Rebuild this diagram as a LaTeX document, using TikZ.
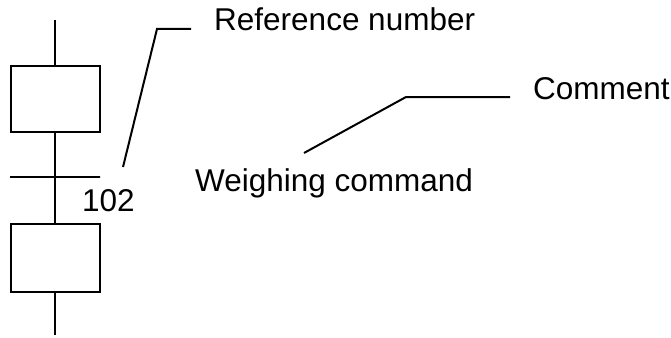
\documentclass[tikz,border=0pt]{standalone}
\usepackage{fontspec}
\setmainfont{Liberation Sans}
\usetikzlibrary{positioning}
\tikzstyle{link} = [line width=2pt,-]

\begin{document}
\begin{tikzpicture}[
    x=1pt, y=-1pt,
    every node/.style={font=\fontsize{31.5}{36}\selectfont, inner sep=0pt},
    stepbox/.style={rectangle, draw=black, line width=2pt, minimum width=89pt, minimum height=66pt},
    transbar/.style={rectangle, draw=black, line width=2pt, minimum width=90pt, minimum height=0pt},
    label/.style={anchor=base west}
]
    \useasboundingbox (0,0) rectangle (671,337);

    % Steps and transition
    \coordinate (top) at (55,20);
    \node[stepbox] (upper) at (55,99) {};
    \node[transbar] (trans) at (55,177) {};
    \node[stepbox, minimum height=68pt] (lower) at (55,258) {};
    \coordinate (bottom) at (55,335);

    % Texts
    \node[label] (num) at (82,211) {102};
    \node[label] (refnum) at (214,31) {Reference number};
    \node[label] (weigh) at (195,191) {Weighing command};
    \node[label] (comment) at (533,99) {Comment};

    % Leader points
    \coordinate (refa) at (123,167);
    \coordinate (refb) at (157,29);
    \coordinate (refc) at (191,29);
    \coordinate (coma) at (304,153);
    \coordinate (comb) at (406,97);
    \coordinate (comc) at (510,97);

    % Connections
    \draw[link] (top) -- (upper.north);
    \draw[link] (upper.south) -- (lower.north);
    \draw[link] (lower.south) -- (bottom);
    \draw[link] (refa) -- (refb) -- (refc);
    \draw[link] (coma) -- (comb) -- (comc);
\end{tikzpicture}
\end{document}
